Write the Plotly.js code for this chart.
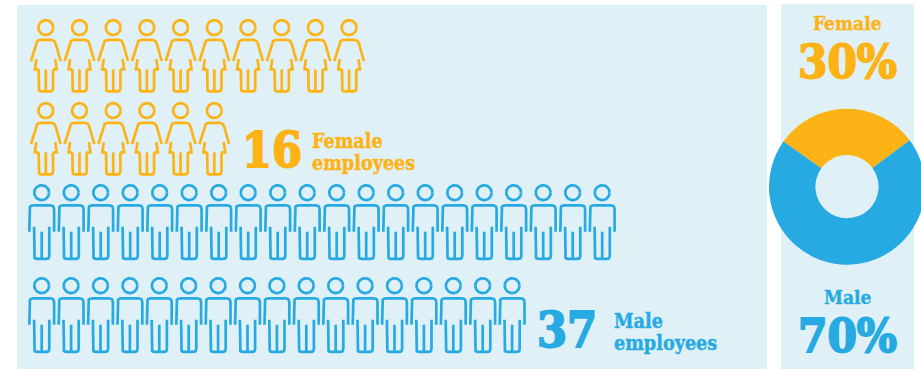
<!DOCTYPE html>
<html>
<head>
<meta charset="utf-8">
<script src="https://cdn.plot.ly/plotly-3.0.1.min.js"></script>
<style>html,body{margin:0;padding:0;background:#fff;overflow:hidden;width:921px;height:369px}</style>
</head>
<body>
<div id="chart"></div>
<script>
// Headcount by gender
var genders = ['Female', 'Male'];
var femaleRows = [10, 6];
var maleRows = [20, 17];
var femaleTotal = 16;
var maleTotal = 37;
var sharePercent = [30, 70];

var ORANGE = '#FDB315', BLUE = '#27AAE2', PANEL = '#DFF1F6';
var SLAB = 'DejaVu Serif Condensed';

// Round the inner corners of a polyline, sampling each bend as a quadratic curve.
function rounded(pts, r) {
  var out = [pts[0]];
  for (var i = 1; i < pts.length - 1; i++) {
    var p = pts[i], a = pts[i - 1], b = pts[i + 1];
    var la = Math.hypot(a[0] - p[0], a[1] - p[1]), lb = Math.hypot(b[0] - p[0], b[1] - p[1]);
    var ra = Math.min(r, la / 2), rb = Math.min(r, lb / 2);
    var s = [p[0] + (a[0] - p[0]) * ra / la, p[1] + (a[1] - p[1]) * ra / la];
    var e = [p[0] + (b[0] - p[0]) * rb / lb, p[1] + (b[1] - p[1]) * rb / lb];
    for (var t = 0; t <= 1.001; t += 0.2) {
      var u = 1 - t;
      out.push([u * u * s[0] + 2 * u * t * p[0] + t * t * e[0], u * u * s[1] + 2 * u * t * p[1] + t * t * e[1]]);
    }
  }
  out.push(pts[pts.length - 1]);
  return out;
}

function ring(r) {
  var pts = [];
  for (var k = 0; k <= 32; k++) {
    var an = k / 32 * 2 * Math.PI;
    pts.push([r * Math.cos(an), r * Math.sin(an)]);
  }
  return pts;
}

// Person outlines, relative to the centre of the head.
var womanGlyph = [
  ring(7.4),
  rounded([[-14.8, 33.4], [-8.8, 12.2], [8.8, 12.2], [14.8, 33.4]], 4),
  rounded([[-9.4, 31.5], [-11.6, 41.8], [-7.2, 41.8]], 1),
  rounded([[-7.2, 41.8], [-7.2, 63.8], [7.2, 63.8], [7.2, 41.8]], 3),
  [[0, 41.8], [0, 63.8]],
  rounded([[9.4, 31.5], [11.6, 41.8], [7.2, 41.8]], 1)
];
var manGlyph = [
  ring(7.4),
  rounded([[-12.4, 39], [-12.4, 12.6], [12.4, 12.6], [12.4, 39]], 4),
  rounded([[-7.6, 34], [-7.6, 66.2], [7.6, 66.2], [7.6, 34]], 3),
  [[0, 39], [0, 66.2]]
];

// One polyline trace per gender, each person stamped at its row and seat.
function peopleTrace(name, rows, glyph, x0, dx, yRows, color) {
  var xs = [], ys = [];
  rows.forEach(function (count, r) {
    for (var c = 0; c < count; c++) {
      glyph.forEach(function (seg) {
        seg.forEach(function (p) {
          xs.push(x0[r] + c * dx[r] + p[0]);
          ys.push(yRows[r] + p[1]);
        });
        xs.push(null); ys.push(null);
      });
    }
  });
  return {
    type: 'scatter', mode: 'lines', name: name, x: xs, y: ys, hoverinfo: 'name',
    line: {color: color, width: 2.7, shape: 'linear'}, connectgaps: false, showlegend: false
  };
}

var FULL_W = 940, FULL_H = 369;

var donut = {
  type: 'pie', labels: genders, values: sharePercent, hole: 0.405, sort: false,
  direction: 'clockwise', rotation: -54.5, textinfo: 'none', showlegend: false,
  marker: {colors: [ORANGE, BLUE], line: {width: 0}},
  domain: {x: [769 / FULL_W, 925 / FULL_W], y: [1 - 264.7 / FULL_H, 1 - 108.7 / FULL_H]}
};

function label(text, x, y, size, color, anchor) {
  return {
    text: '<b>' + text + '</b>', x: x, y: y, xref: 'x', yref: 'y', showarrow: false, xanchor: anchor || 'center', yanchor: 'middle',
    font: {family: SLAB, size: size, color: color}, borderpad: 0
  };
}

var layout = {
  width: FULL_W, height: FULL_H, margin: {l: 0, r: 0, t: 0, b: 0},
  paper_bgcolor: '#fff', plot_bgcolor: 'rgba(0,0,0,0)',
  xaxis: {range: [0, FULL_W], visible: false, fixedrange: true},
  yaxis: {range: [FULL_H, 0], visible: false, fixedrange: true},
  shapes: [
    {type: 'rect', layer: 'below', xref: 'x', yref: 'y', x0: 17, x1: 767, y0: 5, y1: 369, fillcolor: PANEL, line: {width: 0}},
    {type: 'rect', layer: 'below', xref: 'x', yref: 'y', x0: 781, x1: 914, y0: 4, y1: 369, fillcolor: PANEL, line: {width: 0}}
  ],
  annotations: [
    label(String(femaleTotal), 241, 150, 48, ORANGE, 'left'),
    label('Female', 311, 141, 19.6, ORANGE, 'left'),
    label('employees', 311, 163, 19.6, ORANGE, 'left'),
    label(String(maleTotal), 536, 330, 48, BLUE, 'left'),
    label('Male', 613, 321, 19.6, BLUE, 'left'),
    label('employees', 613, 343, 19.6, BLUE, 'left'),
    label(genders[0], 847, 23, 19, ORANGE),
    label(sharePercent[0] + '%', 847, 61.5, 47, ORANGE),
    label(genders[1], 847, 297, 19, BLUE),
    label(sharePercent[1] + '%', 847, 335.5, 47, BLUE)
  ]
};

var traces = [
  peopleTrace('Female employees', femaleRows, womanGlyph, [45.8, 45.8], [33.7, 33.7], [27.6, 110.6], ORANGE),
  peopleTrace('Male employees', maleRows, manGlyph, [41.7, 41.7], [29.5, 29.4], [192.7, 285.7], BLUE),
  donut
];

Plotly.newPlot('chart', traces, layout, {displayModeBar: false, staticPlot: true}).then(function () {
  // Thicken the lettering a little with an outline in the text's own colour.
  document.querySelectorAll('.annotation-text').forEach(function (t) {
    var big = parseFloat(t.style.fontSize) > 30;
    t.style.stroke = t.style.fill;
    t.style.strokeWidth = big ? '1.8px' : '0.4px';
  });
});
</script>
</body>
</html>
